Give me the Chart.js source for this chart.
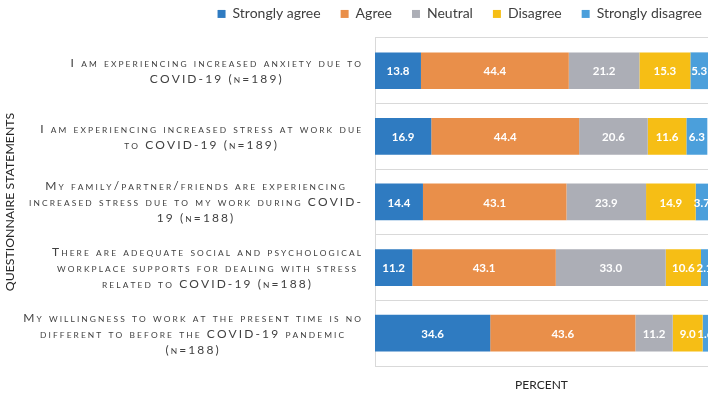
<!DOCTYPE html>
<html>
  <head>
    <title>COVID-19 questionnaire</title>
    <style>
      body { margin: 0; background: #fff; }
      #wrap { width: 709px; height: 396px; }
    </style>
  </head>
  <body>
    <div id="wrap"><canvas id="chart"></canvas></div>
    <script src="https://cdn.jsdelivr.net/npm/chart.js"></script>
    <script>
      const statements = [
        ['I am experiencing increased anxiety due to', 'COVID-19 (n=189)'],
        ['I am experiencing increased stress at work due', 'to COVID-19 (n=189)'],
        ['My family/partner/friends are experiencing', 'increased stress due to my work during COVID-', '19 (n=188)'],
        ['There are adequate social and psychological', 'workplace supports for dealing with stress', 'related to COVID-19 (n=188)'],
        ['My willingness to work at the present time is no', 'different to before the COVID-19 pandemic', '(n=188)']
      ];
      const responses = ['Strongly agree', 'Agree', 'Neutral', 'Disagree', 'Strongly disagree'];
      const stronglyAgree = [13.8, 16.9, 14.4, 11.2, 34.6];
      const agree = [44.4, 44.4, 43.1, 43.1, 43.6];
      const neutral = [21.2, 20.6, 23.9, 33.0, 11.2];
      const disagree = [15.3, 11.6, 14.9, 10.6, 9.0];
      const stronglyDisagree = [5.3, 6.3, 3.7, 2.1, 1.6];
      const colors = ['#2F7BC1', '#E98F4A', '#ACAEB6', '#F6BE15', '#4B9FDB'];

      const FONT = 'Lato';
      const SPACING = 2.1;   // letter spacing of the statements
      const SMALL = 0.7;     // small caps scale

      // small caps drawn letter by letter; returns the width
      function smallCaps(ctx, text, x, y, size, draw) {
        let cx = x;
        for (const ch of text) {
          const lower = ch !== ch.toUpperCase();
          const c = ch.toUpperCase();
          ctx.font = (lower ? size * SMALL : size) + 'px ' + FONT;
          if (draw) ctx.fillText(c, cx, y);
          cx += ctx.measureText(c).width + SPACING;
        }
        return cx - x - SPACING;
      }

      // category axis: statements in small caps, each block centred and set against the plot
      class StatementScale extends Chart.CategoryScale {
        static id = 'statement';
        static defaults = Chart.CategoryScale.defaults;

        drawLabels(chartArea) {
          const ctx = this.ctx;
          const items = this.getLabelItems(chartArea);
          ctx.save();
          ctx.textAlign = 'left';
          ctx.textBaseline = 'alphabetic';
          items.forEach(item => {
            const size = item.font.size;
            const lines = Array.isArray(item.label) ? item.label : [item.label];
            const widths = lines.map(l => smallCaps(ctx, l, 0, 0, size, false));
            const block = Math.max(...widths);
            const [tx, ty] = item.options.translation;
            const mid = tx - block / 2;
            ctx.fillStyle = item.options.color;
            lines.forEach((l, i) => {
              const y = ty + item.textOffset + i * item.font.lineHeight + size * 0.36;
              smallCaps(ctx, l, mid - widths[i] / 2, y, size, true);
            });
          });
          ctx.restore();
        }
      }
      Chart.register(StatementScale);

      const barLabels = {
        id: 'barLabels',
        afterLayout(chart) {
          // legend sits further right, close to the edge
          chart.legend.left += 14;
          chart.legend.right += 14;
        },
        afterDatasetsDraw(chart) {
          const ctx = chart.ctx;
          ctx.save();
          ctx.font = 'bold 11.5px ' + FONT;
          ctx.fillStyle = '#fff';
          ctx.textAlign = 'center';
          ctx.textBaseline = 'middle';
          chart.data.datasets.forEach((ds, i) => {
            chart.getDatasetMeta(i).data.forEach((bar, j) => {
              const p = bar.getProps(['x', 'y', 'base'], true);
              ctx.fillText(ds.data[j].toFixed(1), (p.x + p.base) / 2, p.y + 1);
            });
          });
          ctx.restore();
        }
      };

      const series = [stronglyAgree, agree, neutral, disagree, stronglyDisagree];
      const ctx = document.getElementById('chart').getContext('2d');
      const chart = new Chart(ctx, {
        type: 'bar',
        data: {
          labels: statements,
          datasets: responses.map((r, i) => ({
            label: r,
            data: series[i],
            backgroundColor: colors[i],
            barPercentage: 0.56,
            categoryPercentage: 1
          }))
        },
        options: {
          indexAxis: 'y',
          responsive: true,
          maintainAspectRatio: false,
          animation: false,
          layout: { padding: { top: -17, right: 1, bottom: 0, left: 0 } },
          scales: {
            x: {
              stacked: true,
              min: 0,
              max: 100,
              ticks: { display: false },
              grid: { display: false },
              border: { display: false },
              title: {
                display: true,
                text: 'PERCENT',
                color: '#262626',
                font: { family: FONT, size: 12 },
                padding: { top: 4, bottom: 3 }
              }
            },
            y: {
              type: 'statement',
              stacked: true,
              grid: { color: '#D9D9D9', drawTicks: false, offset: true },
              border: { color: '#D9D9D9' },
              ticks: {
                crossAlign: 'near',
                padding: 14,
                color: '#404040',
                font: { family: FONT, size: 12, lineHeight: 1.33 }
              },
              title: {
                display: true,
                text: 'QUESTIONNAIRE STATEMENTS',
                color: '#262626',
                font: { family: FONT, size: 12.3 },
                padding: { top: 3, bottom: 0 }
              },
              afterFit: scale => { scale.width = 375; }
            }
          },
          plugins: {
            legend: {
              position: 'top',
              align: 'end',
              labels: {
                boxWidth: 8,
                boxHeight: 8,
                padding: 20,
                color: '#404040',
                font: { family: FONT, size: 14 }
              }
            },
            title: {
              display: true,
              text: '',
              weight: 500,
              padding: 0,
              font: { size: 5.83 }
            },
            tooltip: { enabled: false }
          }
        },
        plugins: [barLabels]
      });
    </script>
  </body>
</html>
